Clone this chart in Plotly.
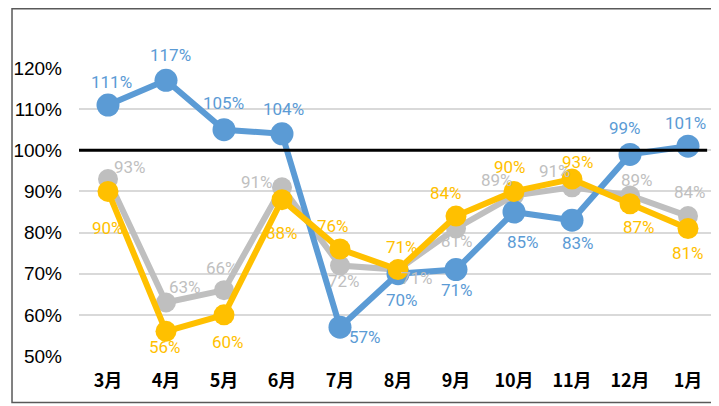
import plotly.graph_objects as go

months = ["3月", "4月", "5月", "6月", "7月", "8月", "9月", "10月", "11月", "12月", "1月"]
blue_vals = [111, 117, 105, 104, 57, 70, 71, 85, 83, 99, 101]
gray_vals = [93, 63, 66, 91, 72, 71, 81, 89, 91, 89, 84]
yellow_vals = [90, 56, 60, 88, 76, 71, 84, 90, 93, 87, 81]
y_ticks = [50, 60, 70, 80, 90, 100, 110, 120]
target = 100

# label offsets (screen px, dx right, dy down) -- styling only
blue_off = [(3, -23), (4, -25), (-1, -27), (1, -25), (25, 10), (4, 26), (1, 20), (9, 30), (6, 23), (-5, -26), (-3, -23)]
gray_off = [(22, -12), (19, -16), (-2, -22), (-25, -5), (4, 16), (19, 8), (1, 13), (-17, -16), (-17, -16), (7, -16), (2, -24)]
yellow_off = [(0, 37), (-1, 16), (4, 27), (0, 33), (-7, -23), (4, -23), (-10, -23), (-4, -24), (6, -17), (9, 23), (0, 25)]

BLUE = "#5B9BD5"
GRAY = "#BFBFBF"
YELLOW = "#FFC000"
FONT = "Noto Sans CJK JP"

def trace(vals, color, size):
    return go.Scatter(
        x=months, y=vals, mode="lines+markers",
        line=dict(color=color, width=6),
        marker=dict(color=color, size=size),
        cliponaxis=False, showlegend=False, hoverinfo="skip",
    )

fig = go.Figure()
fig.add_trace(trace(gray_vals, GRAY, 20))
fig.add_trace(trace(blue_vals, BLUE, 23))
fig.add_trace(trace(yellow_vals, YELLOW, 21))

for vals, offs, color in [(gray_vals, gray_off, GRAY), (blue_vals, blue_off, BLUE), (yellow_vals, yellow_off, YELLOW)]:
    for m, v, (dx, dy) in zip(months, vals, offs):
        fig.add_annotation(x=m, y=v, text=f"{v}%", showarrow=False,
                           xshift=dx, yshift=-dy,
                           font=dict(color=color, size=17, family="Roboto"))

fig.add_shape(type="line", xref="x", yref="y", x0=-0.5, x1=10.33, y0=target, y1=target,
              line=dict(color="black", width=3), layer="above")
# chart frame (page body has an 8px margin, so figure is offset accordingly)
fig.add_shape(type="rect", xref="paper", yref="paper", x0=-0.105, x1=1.0016, y0=-0.1615, y1=1.206,
              line=dict(color="#595959", width=1.5), fillcolor="rgba(0,0,0,0)")

fig.update_layout(
    width=711, height=398,
    margin=dict(l=71, r=2, t=60, b=50),
    paper_bgcolor="white", plot_bgcolor="white",
    font=dict(family=FONT, color="black"),
    xaxis=dict(range=[-0.5, 10.5], showgrid=False, zeroline=False, showline=False,
               tickfont=dict(size=18, family=FONT, color="black", weight="bold"), ticks="",
               ticklabelstandoff=12),
    yaxis=dict(range=[50, 120], tickvals=y_ticks, ticktext=[f"{v}%" for v in y_ticks],
               showgrid=True, gridcolor="#D9D9D9", gridwidth=1.5, zeroline=False, showline=False,
               tickfont=dict(size=19, family="Liberation Sans Narrow, Liberation Sans", color="black"),
               ticklabelstandoff=16, ticks=""),
)

fig.write_html("out.html")
